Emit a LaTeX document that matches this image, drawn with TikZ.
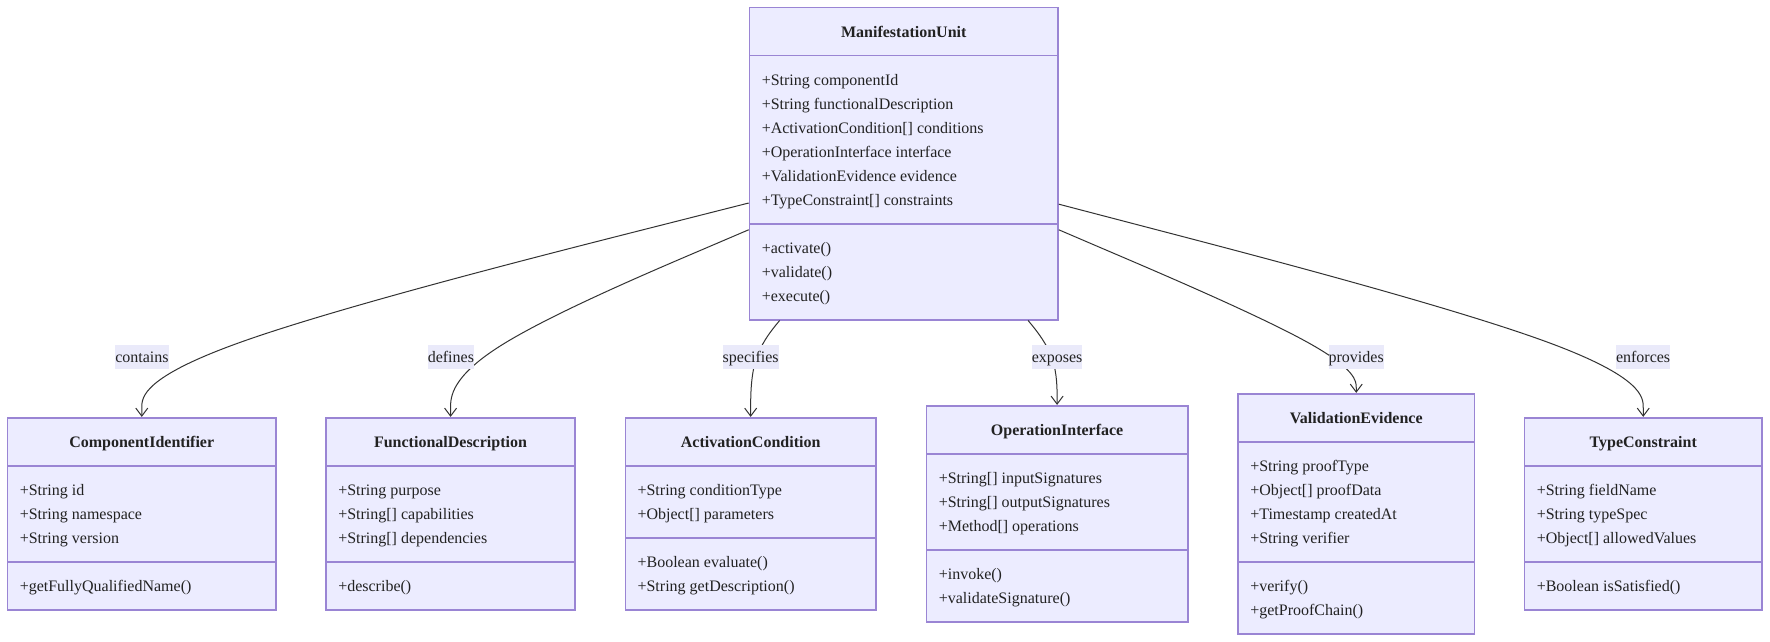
\documentclass[tikz,border=0pt]{standalone}
\usepackage{fontspec}
\setmainfont{Liberation Serif}
\usetikzlibrary{fit,arrows.meta}
\definecolor{boxfill}{HTML}{ECECFF}
\definecolor{boxline}{HTML}{9A85D4}
\definecolor{edgecol}{HTML}{333333}
\definecolor{lblbg}{RGB}{234,234,250}
\definecolor{txtcol}{HTML}{222222}
\tikzset{
  classbox/.style={draw=boxline, fill=boxfill, line width=1.2pt, inner sep=0pt, rectangle},
  sepline/.style={draw=boxline, line width=1.2pt},
  titletext/.style={font=\fontsize{12}{14}\selectfont\bfseries, anchor=base, inner sep=0pt, text=txtcol},
  membertext/.style={font=\fontsize{12}{14}\selectfont, anchor=base west, inner sep=0pt, text=txtcol},
  elabel/.style={fill=lblbg, font=\fontsize{12}{14}\selectfont, inner xsep=0pt, inner ysep=0pt, text height=10.7pt, text depth=2.6pt, minimum height=18pt, text=txtcol},
  edge/.style={draw=edgecol, line width=0.75pt, -{Straight Barb[length=6pt,width=9pt]}},
}
\newcommand\umlclass[9]{%
  \pgfmathsetmacro\cbL{#2}%
  \pgfmathsetmacro\cbT{#3}%
  \pgfmathsetmacro\cbR{#4}%
  \pgfmathsetmacro\cbA{#3+48}%
  \pgfmathsetmacro\cbB{#3+48+24*#6+24}%
  \pgfmathsetmacro\cbZ{\cbB+24*#8+24}%
  \pgfmathsetmacro\cbM{(#2+#4)/2}%
  \node[classbox, fit={(\cbL,\cbT) (\cbR,\cbZ)}] (#1) {};
  \draw[sepline] (\cbL,\cbA) -- (\cbR,\cbA);
  \draw[sepline] (\cbL,\cbB) -- (\cbR,\cbB);
  \node[titletext] (#1-title) at (\cbM,\cbT+29.4) {#5};
  \foreach \mtext [count=\i] in {#7} {\node[membertext] (#1-a\i) at (\cbL+12,\cbA+24*\i+5.4) {\mtext};}
  \foreach \mtext [count=\i] in {#9} {\node[membertext] (#1-m\i) at (\cbL+12,\cbB+24*\i+5.4) {\mtext};}
}
\begin{document}
\begin{tikzpicture}[x=0.75pt,y=-0.75pt]
\fill[white] (0,0) rectangle (1770,642);
\useasboundingbox (0,0) rectangle (1770,642);

\umlclass{MU}{749.5}{7.7}{1058}{ManifestationUnit}{6}{{+String componentId},{+String functionalDescription},{+ActivationCondition[] conditions},{+OperationInterface interface},{+ValidationEvidence evidence},{+TypeConstraint[] constraints}}{3}{{+activate()},{+validate()},{+execute()}}

\umlclass{CI}{7.5}{417.7}{276}{ComponentIdentifier}{3}{{+String id},{+String namespace},{+String version}}{1}{{+getFullyQualifiedName()}}

\umlclass{FD}{326}{417.7}{575}{FunctionalDescription}{3}{{+String purpose},{+String[] capabilities},{+String[] dependencies}}{1}{{+describe()}}

\umlclass{AC}{625.3}{417.7}{876}{ActivationCondition}{2}{{+String conditionType},{+Object[] parameters}}{2}{{+Boolean evaluate()},{+String getDescription()}}

\umlclass{OI}{926.5}{405.7}{1187.7}{OperationInterface}{3}{{+String[] inputSignatures},{+String[] outputSignatures},{+Method[] operations}}{2}{{+invoke()},{+validateSignature()}}

\umlclass{VE}{1238}{393.7}{1474.5}{ValidationEvidence}{4}{{+String proofType},{+Object[] proofData},{+Timestamp createdAt},{+String verifier}}{2}{{+verify()},{+getProofChain()}}

\umlclass{TC}{1524.5}{417.7}{1762}{TypeConstraint}{3}{{+String fieldName},{+String typeSpec},{+Object[] allowedValues}}{1}{{+Boolean isSatisfied()}}

% connectors
\draw[edge] (MU) -- (648.25,228.47) .. controls (547,254.13) and (344.5,305.47) .. (243.21,341.28) .. controls (141.92,377.1) and (141.83,397.4) .. (141.79,407.55) -- (CI);
\draw[edge] (MU) -- (699.73,250.69) .. controls (649.97,271.91) and (550.43,314.36) .. (500.6,345.73) .. controls (450.77,377.1) and (450.63,397.4) .. (450.57,407.55) -- (FD);
\draw[edge] (MU) -- (775.2,325.88) .. controls (770.3,332.07) and (760.5,344.43) .. (755.59,360.77) .. controls (750.68,377.1) and (750.67,397.4) .. (750.66,407.55) -- (AC);
\draw[edge] (MU) -- (1032.55,325.88) .. controls (1037.46,332.07) and (1047.28,344.43) .. (1052.19,358.77) .. controls (1057.1,373.1) and (1057.1,389.4) .. (1057.1,397.55) -- (OI);
\draw[edge] (MU) -- (1107.7,250.74) .. controls (1157.4,271.95) and (1256.8,314.38) .. (1306.51,341.74) .. controls (1356.22,369.1) and (1356.23,381.4) .. (1356.24,387.55) -- (VE);
\draw[edge] (MU) -- (1155.52,229.46) .. controls (1253.03,254.93) and (1448.07,305.86) .. (1545.61,341.48) .. controls (1643.15,377.1) and (1643.2,397.4) .. (1643.23,407.55) -- (TC);

% labels
\node[elabel] (L1) at (142,356.8) {contains};
\node[elabel] (L2) at (450.9,356.8) {defines};
\node[elabel] (L3) at (750.7,356.8) {specifies};
\node[elabel] (L4) at (1057.1,356.8) {exposes};
\node[elabel] (L5) at (1356.2,356.8) {provides};
\node[elabel] (L6) at (1643.1,356.8) {enforces};
\end{tikzpicture}
\end{document}
